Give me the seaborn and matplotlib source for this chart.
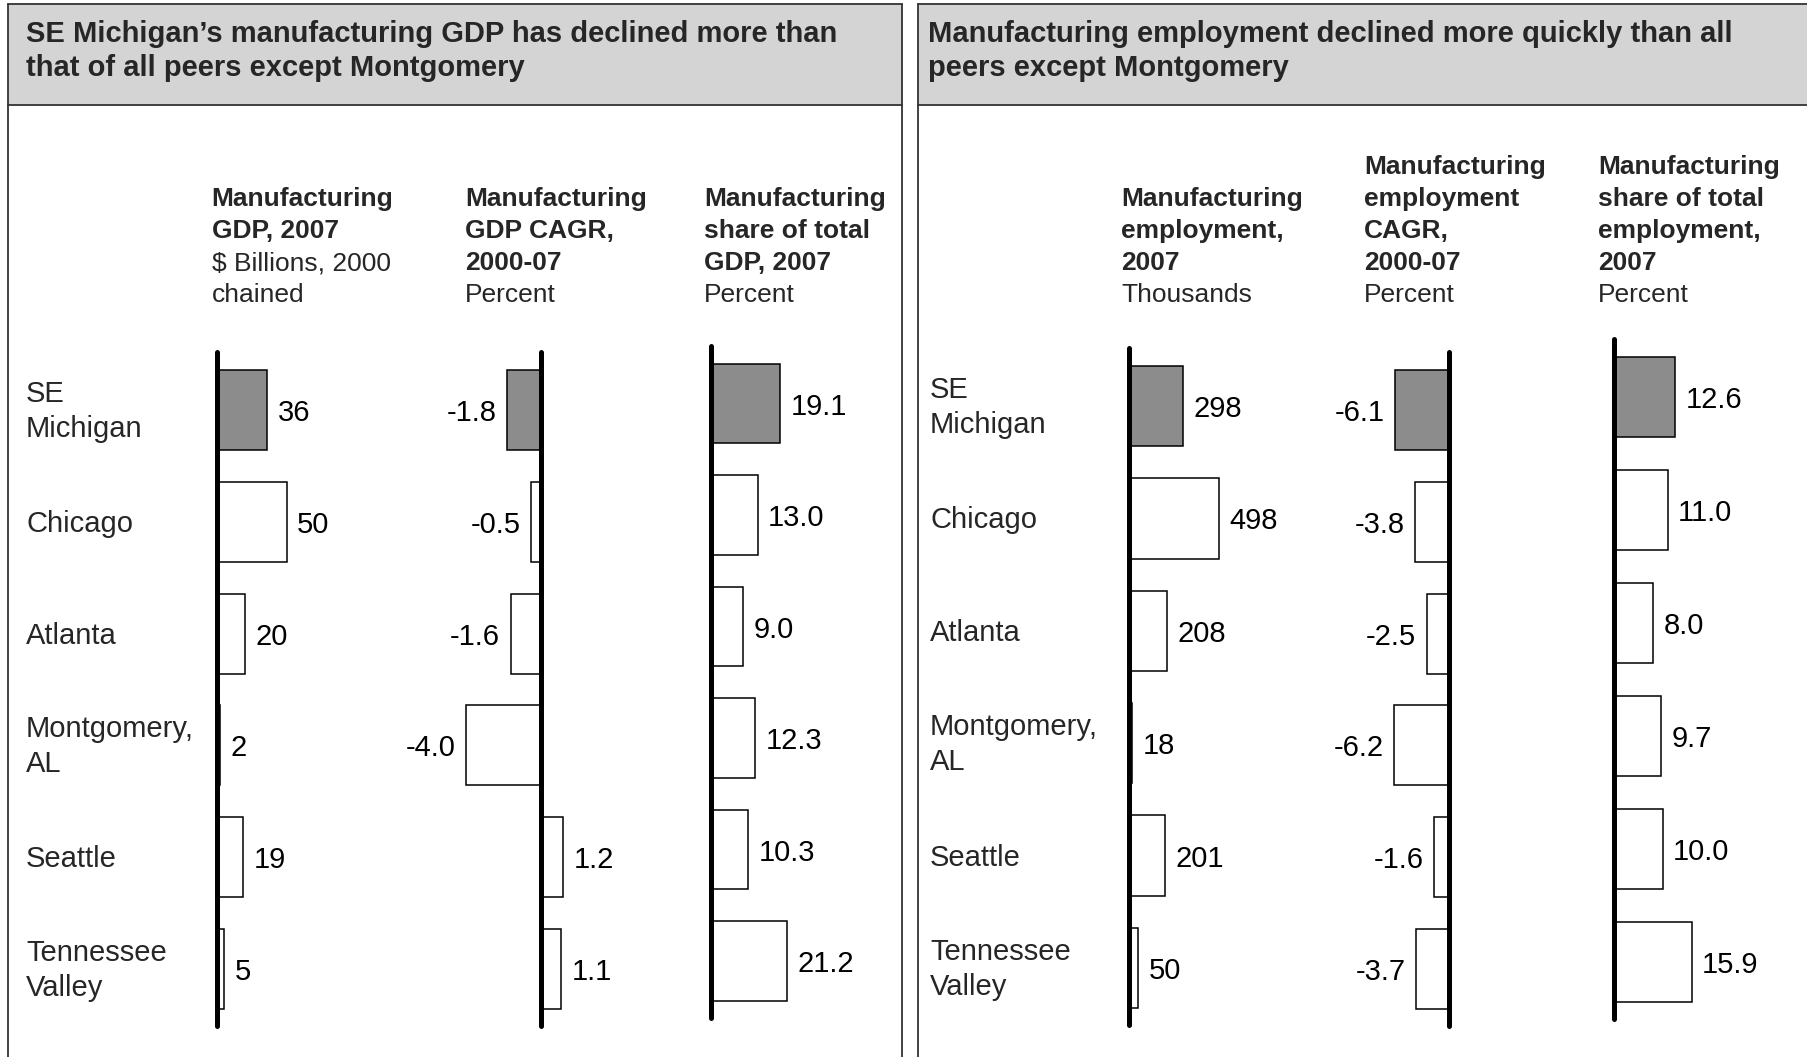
import matplotlib
matplotlib.use("Agg")
import matplotlib.pyplot as plt
import matplotlib.transforms as mtransforms
from matplotlib.patches import Rectangle
from matplotlib.lines import Line2D
import pandas as pd
import seaborn as sns

# ---- data ----
regions = ["SE\nMichigan", "Chicago", "Atlanta", "Montgomery,\nAL", "Seattle", "Tennessee\nValley"]
gdp_2007 = [36, 50, 20, 2, 19, 5]
gdp_cagr = [-1.8, -0.5, -1.6, -4.0, 1.2, 1.1]
gdp_share = [19.1, 13.0, 9.0, 12.3, 10.3, 21.2]
emp_2007 = [298, 498, 208, 18, 201, 50]
emp_cagr = [-6.1, -3.8, -2.5, -6.2, -1.6, -3.7]
emp_share = [12.6, 11.0, 8.0, 9.7, 10.0, 15.9]

left_title = ["SE Michigan\u2019s manufacturing GDP has declined more than",
              "that of all peers except Montgomery"]
right_title = ["Manufacturing employment declined more quickly than all",
               "peers except Montgomery"]

headers = [
    (["Manufacturing", "GDP, 2007"], ["$ Billions, 2000", "chained"]),
    (["Manufacturing", "GDP CAGR,", "2000-07"], ["Percent"]),
    (["Manufacturing", "share of total", "GDP, 2007"], ["Percent"]),
    (["Manufacturing", "employment,", "2007"], ["Thousands"]),
    (["Manufacturing", "employment", "CAGR,", "2000-07"], ["Percent"]),
    (["Manufacturing", "share of total", "employment,", "2007"], ["Percent"]),
]
series = [gdp_2007, gdp_cagr, gdp_share, emp_2007, emp_cagr, emp_share]
formats = ["{:.0f}", "{:.1f}", "{:.1f}", "{:.0f}", "{:.1f}", "{:.1f}"]

df = pd.DataFrame({
    "region": regions,
    "gdp_2007": gdp_2007, "gdp_cagr": gdp_cagr, "gdp_share": gdp_share,
    "emp_2007": emp_2007, "emp_cagr": emp_cagr, "emp_share": emp_share,
})
columns = ["gdp_2007", "gdp_cagr", "gdp_share", "emp_2007", "emp_cagr", "emp_share"]

# ---- layout (pixels in the 1807x1057 canvas) ----
W, H = 1807, 1057
# zero line x, px per unit, first row centre y, row step, header text x
panel_layout = [
    (217, 1.39, 410, 111.8, 211.5),
    (540.5, 18.7, 410, 111.8, 465),
    (710.7, 3.62, 403.5, 111.5, 704),
    (1129, 0.181, 406, 112.4, 1121.5),
    (1448.5, 8.8, 410, 111.8, 1364),
    (1613.5, 4.92, 397, 113.0, 1598),
]

sns.set_theme(style="white")
plt.rcParams["font.family"] = ["Liberation Sans", "DejaVu Sans"]

fig = plt.figure(figsize=(W / 100, H / 100), dpi=100)
fig.patch.set_facecolor("white")


def fx(x):
    return x / W


def fy(y):
    return 1 - y / H


# frames and grey title bands
border = "#333333"
for x0, x1 in [(8, 902), (918, W + 10)]:
    fig.add_artist(Rectangle((fx(x0), fy(104.5)), fx(x1) - fx(x0), fy(4) - fy(104.5),
                             transform=fig.transFigure, facecolor="#d4d4d4",
                             edgecolor="none", zorder=0))
    for xs, ys in [([x0, x0], [4, H + 5]), ([x1, x1], [4, H + 5]),
                   ([x0, x1], [4, 4]), ([x0, x1], [104.5, 104.5])]:
        fig.add_artist(Line2D([fx(v) for v in xs], [fy(v) for v in ys],
                              transform=fig.transFigure, color=border, lw=1.3))

for title_x, title_lines in [(26.5, left_title), (928, right_title)]:
    for j, line in enumerate(title_lines):
        fig.text(fx(title_x), fy(41.5 + j * 35), line, fontsize=21, fontweight="bold",
                 va="baseline", ha="left")

palette = ["#8c8c8c"] + ["white"] * (len(regions) - 1)
header_step = 32.0

for i, (col, fmt, (zero_x, scale, row0, step, head_x)) in enumerate(zip(columns, formats, panel_layout)):
    vals = series[i]
    top_px = row0 - 58
    bot_px = row0 + 5 * step + 57
    left_px = zero_x - 150 if min(vals) < 0 else zero_x - 4
    right_px = zero_x + 150 if max(vals) > 0 else zero_x + 4
    ax = fig.add_axes([fx(left_px), fy(bot_px), fx(right_px) - fx(left_px), fy(top_px) - fy(bot_px)])
    sns.barplot(data=df, x=col, y="region", hue="region", palette=palette, orient="h",
                width=0.715, edgecolor="black", linewidth=1.1, legend=False, ax=ax)
    ax.set_xlim((left_px - zero_x) / scale, (right_px - zero_x) / scale)
    ax.set_ylim(5 + 57 / step, -58 / step)
    ax.axvline(0, color="black", lw=3.6, solid_capstyle="round", zorder=5, clip_on=False)
    for cont in ax.containers:
        anns = ax.bar_label(cont, fmt=fmt, padding=7.5, fontsize=21, color="black")
        for ann in anns:
            # nudge the numbers down a touch so the digits sit on the bar centre
            ann.xyann = (ann.xyann[0], ann.xyann[1] - 2.2)
    ax.set_axis_off()

    # row labels on the first panel of each side
    if i in (0, 3):
        label_x = 26 if i == 0 else 930
        trans = mtransforms.blended_transform_factory(fig.transFigure, ax.transData)
        for k, name in enumerate(regions):
            parts = name.split("\n")
            offsets = [-10] if len(parts) == 1 else [8, -27]
            for part, off in zip(parts, offsets):
                t = mtransforms.offset_copy(trans, fig=fig, y=off, units="dots")
                ax.text(fx(label_x), k, part, transform=t, fontsize=21, va="baseline",
                        ha="left", clip_on=False)

    # column header, bottom-aligned on a common baseline
    bold_lines, unit_lines = headers[i]
    lines = [(t, "bold") for t in bold_lines] + [(t, "normal") for t in unit_lines]
    for j, (txt, weight) in enumerate(reversed(lines)):
        fig.text(fx(head_x), fy(302 - j * header_step), txt, fontsize=19,
                 fontweight=weight, va="baseline", ha="left")

fig.savefig("out.png", dpi=100, facecolor="white")
